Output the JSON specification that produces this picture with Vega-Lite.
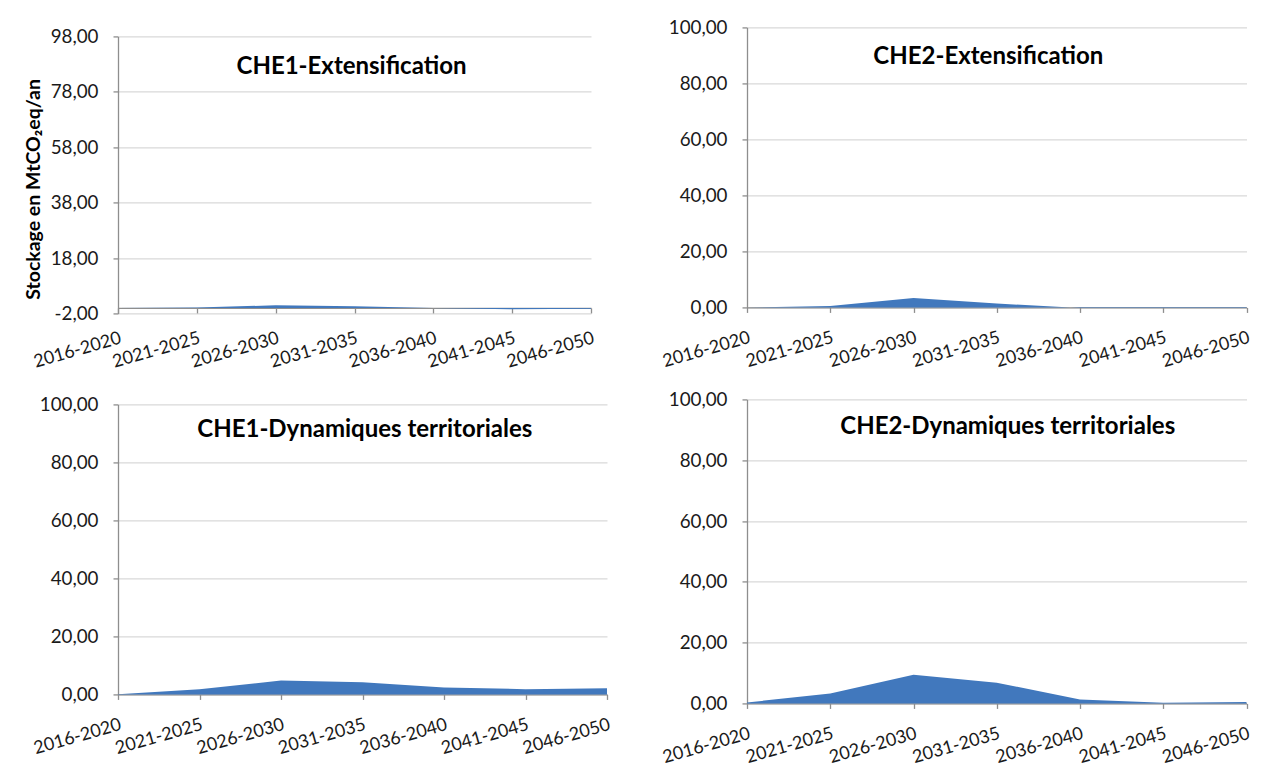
{
  "$schema": "https://vega.github.io/schema/vega-lite/v6.json",
  "background": "white",
  "padding": {"left": 23, "top": 18, "right": 0, "bottom": 0},
  "datasets": {
    "d": [
      {"panel": "CHE1-Extensification", "period": "2016-2020", "value": 0.0},
      {"panel": "CHE1-Extensification", "period": "2021-2025", "value": 0.1},
      {"panel": "CHE1-Extensification", "period": "2026-2030", "value": 0.95},
      {"panel": "CHE1-Extensification", "period": "2031-2035", "value": 0.6},
      {"panel": "CHE1-Extensification", "period": "2036-2040", "value": 0.0},
      {"panel": "CHE1-Extensification", "period": "2041-2045", "value": -0.5},
      {"panel": "CHE1-Extensification", "period": "2046-2050", "value": -0.3},
      {"panel": "CHE2-Extensification", "period": "2016-2020", "value": 0.0},
      {"panel": "CHE2-Extensification", "period": "2021-2025", "value": 0.5},
      {"panel": "CHE2-Extensification", "period": "2026-2030", "value": 3.4},
      {"panel": "CHE2-Extensification", "period": "2031-2035", "value": 1.4},
      {"panel": "CHE2-Extensification", "period": "2036-2040", "value": -0.2},
      {"panel": "CHE2-Extensification", "period": "2041-2045", "value": -0.2},
      {"panel": "CHE2-Extensification", "period": "2046-2050", "value": -0.2},
      {"panel": "CHE1-Dynamiques territoriales", "period": "2016-2020", "value": 0.1},
      {"panel": "CHE1-Dynamiques territoriales", "period": "2021-2025", "value": 1.8},
      {"panel": "CHE1-Dynamiques territoriales", "period": "2026-2030", "value": 4.8},
      {"panel": "CHE1-Dynamiques territoriales", "period": "2031-2035", "value": 4.2},
      {"panel": "CHE1-Dynamiques territoriales", "period": "2036-2040", "value": 2.4},
      {"panel": "CHE1-Dynamiques territoriales", "period": "2041-2045", "value": 1.8},
      {"panel": "CHE1-Dynamiques territoriales", "period": "2046-2050", "value": 2.1},
      {"panel": "CHE2-Dynamiques territoriales", "period": "2016-2020", "value": 0.3},
      {"panel": "CHE2-Dynamiques territoriales", "period": "2021-2025", "value": 3.3},
      {"panel": "CHE2-Dynamiques territoriales", "period": "2026-2030", "value": 9.4},
      {"panel": "CHE2-Dynamiques territoriales", "period": "2031-2035", "value": 6.8},
      {"panel": "CHE2-Dynamiques territoriales", "period": "2036-2040", "value": 1.3},
      {"panel": "CHE2-Dynamiques territoriales", "period": "2041-2045", "value": 0.2},
      {"panel": "CHE2-Dynamiques territoriales", "period": "2046-2050", "value": 0.5}
    ]
  },
  "data": {"name": "d"},
  "spacing": 48,
  "center": true,
  "hconcat": [
    {
      "spacing": 24,
      "vconcat": [
        {
          "width": 473,
          "height": 277,
          "title": {"text": "CHE1-Extensification", "offset": -52, "dx": -3},
          "transform": [{"filter": "datum.panel === 'CHE1-Extensification'"}],
          "mark": {"type": "area", "color": "#4178BD"},
          "encoding": {
            "x": {"field": "period", "type": "ordinal", "scale": {"type": "point", "padding": 0}, "axis": {"title": null, "offset": -5.5}},
            "y": {"field": "value", "type": "quantitative", "scale": {"domain": [-2, 98], "nice": false},
                  "axis": {"values": [-2, 18, 38, 58, 78, 98], "title": "Stockage en MtCO₂eq/an", "titleFontSize": 19.5, "titleFontWeight": "bold", "titleColor": "#000", "titlePadding": 7, "titleY": 152.5,
                           "labelExpr": "(datum.value < 0 ? '-' : '') + replace(format(abs(datum.value), '.2f'), '.', ',')"}}
          }
        },
        {
          "width": 489,
          "height": 290,
          "title": {"text": "CHE1-Dynamiques territoriales", "offset": -47, "dx": 2.3},
          "transform": [{"filter": "datum.panel === 'CHE1-Dynamiques territoriales'"}],
          "mark": {"type": "area", "color": "#4178BD"},
          "encoding": {
            "x": {"field": "period", "type": "ordinal", "scale": {"type": "point", "padding": 0}, "axis": {"title": null}},
            "y": {"field": "value", "type": "quantitative", "scale": {"domain": [0, 100], "nice": false},
                  "axis": {"values": [0, 20, 40, 60, 80, 100], "title": null,
                           "labelExpr": "(datum.value < 0 ? '-' : '') + replace(format(abs(datum.value), '.2f'), '.', ',')"}}
          }
        }
      ]
    },
    {
      "spacing": 19,
      "vconcat": [
        {
          "width": 499.5,
          "height": 280,
          "title": {"text": "CHE2-Extensification", "offset": -50.5, "dx": -8.4},
          "transform": [{"filter": "datum.panel === 'CHE2-Extensification'"}],
          "mark": {"type": "area", "color": "#4178BD"},
          "encoding": {
            "x": {"field": "period", "type": "ordinal", "scale": {"type": "point", "padding": 0}, "axis": {"title": null}},
            "y": {"field": "value", "type": "quantitative", "scale": {"domain": [0, 100], "nice": false},
                  "axis": {"values": [0, 20, 40, 60, 80, 100], "title": null,
                           "labelExpr": "(datum.value < 0 ? '-' : '') + replace(format(abs(datum.value), '.2f'), '.', ',')"}}
          }
        },
        {
          "width": 499.5,
          "height": 304,
          "title": {"text": "CHE2-Dynamiques territoriales", "offset": -49, "dx": 11},
          "transform": [{"filter": "datum.panel === 'CHE2-Dynamiques territoriales'"}],
          "mark": {"type": "area", "color": "#4178BD"},
          "encoding": {
            "x": {"field": "period", "type": "ordinal", "scale": {"type": "point", "padding": 0}, "axis": {"title": null}},
            "y": {"field": "value", "type": "quantitative", "scale": {"domain": [0, 100], "nice": false},
                  "axis": {"values": [0, 20, 40, 60, 80, 100], "title": null,
                           "labelExpr": "(datum.value < 0 ? '-' : '') + replace(format(abs(datum.value), '.2f'), '.', ',')"}}
          }
        }
      ]
    }
  ],
  "config": {
    "view": {"stroke": null},
    "font": "Lato",
    "axis": {
      "labelFont": "Lato", "labelFontSize": 18.8, "labelColor": "#1a1a1a",
      "titleFont": "Lato",
      "domainColor": "#8e8e8e", "tickColor": "#8e8e8e", "domainWidth": 1.3, "tickWidth": 1.3,
      "gridColor": "#d9d9d9", "gridWidth": 1.2, "tickSize": 5
    },
    "axisX": {"grid": false, "labelFontSize": 18, "labelAngle": -16, "labelAlign": "right", "labelBaseline": "top", "labelPadding": 16, "labelOverlap": false},
    "axisY": {"grid": true, "labelPadding": 15},
    "title": {"font": "Lato", "fontSize": 24, "fontWeight": "bold", "color": "#000", "frame": "group", "anchor": "middle", "baseline": "middle"}
  }
}
